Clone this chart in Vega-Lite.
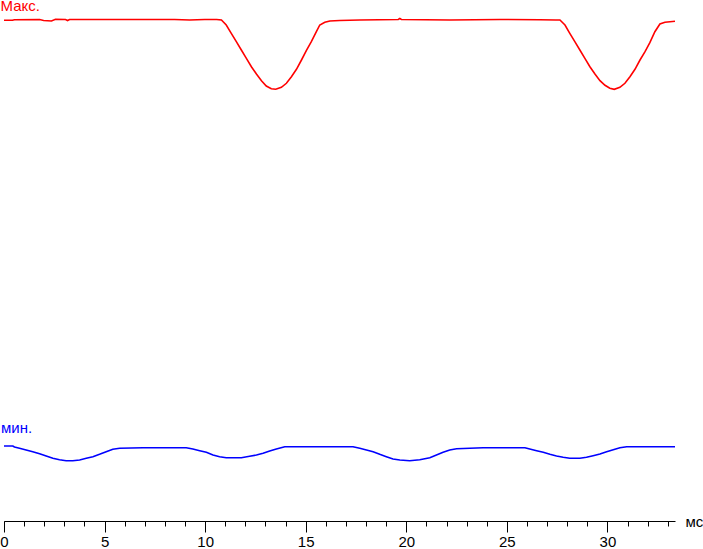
{
  "$schema": "https://vega.github.io/schema/vega-lite/v6.json",
  "autosize": {"type": "none"},
  "width": 671,
  "height": 521,
  "padding": {"left": 4, "top": 0, "right": 28, "bottom": 28},
  "background": "white",
  "config": {"view": {"stroke": null}, "font": "Liberation Sans"},
  "resolve": {"axis": {"x": "independent"}},
  "datasets": {
    "lines": [
      {"s": "max", "t": 0, "v": 500.7}, {"s": "max", "t": 0.42, "v": 500.7}, {"s": "max", "t": 0.52, "v": 501.3}, {"s": "max", "t": 1.77, "v": 501.5}, {"s": "max", "t": 1.97, "v": 500.5}, {"s": "max", "t": 2.36, "v": 500}, {"s": "max", "t": 2.56, "v": 501.7}, {"s": "max", "t": 3.06, "v": 501.5}, {"s": "max", "t": 3.16, "v": 500.5}, {"s": "max", "t": 3.26, "v": 501.5}, {"s": "max", "t": 5.75, "v": 501.5}, {"s": "max", "t": 8.48, "v": 501.5}, {"s": "max", "t": 9.23, "v": 501}, {"s": "max", "t": 9.98, "v": 501.5}, {"s": "max", "t": 10.57, "v": 501.5}, {"s": "max", "t": 10.81, "v": 501},
      {"s": "max", "t": 11.05, "v": 496}, {"s": "max", "t": 11.3, "v": 487.7}, {"s": "max", "t": 11.55, "v": 479.3}, {"s": "max", "t": 11.8, "v": 471}, {"s": "max", "t": 12.05, "v": 462.7}, {"s": "max", "t": 12.3, "v": 454.3}, {"s": "max", "t": 12.55, "v": 447}, {"s": "max", "t": 12.8, "v": 440.3}, {"s": "max", "t": 13.04, "v": 435}, {"s": "max", "t": 13.29, "v": 432.3}, {"s": "max", "t": 13.51, "v": 431.7}, {"s": "max", "t": 13.79, "v": 433.7}, {"s": "max", "t": 14.04, "v": 437.7}, {"s": "max", "t": 14.29, "v": 444.3}, {"s": "max", "t": 14.54, "v": 451.7}, {"s": "max", "t": 14.79, "v": 461}, {"s": "max", "t": 15.03, "v": 470.3}, {"s": "max", "t": 15.28, "v": 479.3}, {"s": "max", "t": 15.53, "v": 489.3}, {"s": "max", "t": 15.7, "v": 496}, {"s": "max", "t": 15.95, "v": 498.7}, {"s": "max", "t": 16.2, "v": 500}, {"s": "max", "t": 16.69, "v": 500.5},
      {"s": "max", "t": 17.69, "v": 501}, {"s": "max", "t": 19.6, "v": 501.5}, {"s": "max", "t": 19.68, "v": 502.5}, {"s": "max", "t": 19.76, "v": 501.5}, {"s": "max", "t": 22.16, "v": 501}, {"s": "max", "t": 24.65, "v": 501.5}, {"s": "max", "t": 26.64, "v": 501.3}, {"s": "max", "t": 27.44, "v": 501}, {"s": "max", "t": 27.64, "v": 501},
      {"s": "max", "t": 27.89, "v": 496}, {"s": "max", "t": 28.13, "v": 487.7}, {"s": "max", "t": 28.38, "v": 479.3}, {"s": "max", "t": 28.63, "v": 471}, {"s": "max", "t": 28.88, "v": 462.7}, {"s": "max", "t": 29.13, "v": 454.3}, {"s": "max", "t": 29.38, "v": 447}, {"s": "max", "t": 29.63, "v": 440.3}, {"s": "max", "t": 29.88, "v": 435.7}, {"s": "max", "t": 30.12, "v": 432.7}, {"s": "max", "t": 30.34, "v": 431.7}, {"s": "max", "t": 30.62, "v": 433.7}, {"s": "max", "t": 30.87, "v": 437.7}, {"s": "max", "t": 31.12, "v": 444.3}, {"s": "max", "t": 31.37, "v": 451.7}, {"s": "max", "t": 31.62, "v": 461}, {"s": "max", "t": 31.87, "v": 469.3}, {"s": "max", "t": 32.11, "v": 478.3}, {"s": "max", "t": 32.36, "v": 489.3}, {"s": "max", "t": 32.61, "v": 497}, {"s": "max", "t": 32.86, "v": 498.7}, {"s": "max", "t": 33.11, "v": 499.3}, {"s": "max", "t": 33.36, "v": 499.7},
      {"s": "min", "t": 0, "v": 75}, {"s": "min", "t": 0.44, "v": 75}, {"s": "min", "t": 0.52, "v": 74}, {"s": "min", "t": 0.77, "v": 72.7}, {"s": "min", "t": 1.1, "v": 71}, {"s": "min", "t": 1.43, "v": 69.3}, {"s": "min", "t": 1.77, "v": 67.3}, {"s": "min", "t": 2.1, "v": 65}, {"s": "min", "t": 2.43, "v": 62.7}, {"s": "min", "t": 2.76, "v": 61.3}, {"s": "min", "t": 3.09, "v": 60.3}, {"s": "min", "t": 3.42, "v": 60.3}, {"s": "min", "t": 3.76, "v": 61}, {"s": "min", "t": 4.09, "v": 62.7}, {"s": "min", "t": 4.42, "v": 64.3}, {"s": "min", "t": 4.75, "v": 66.7}, {"s": "min", "t": 5.08, "v": 69.3}, {"s": "min", "t": 5.41, "v": 71.7}, {"s": "min", "t": 5.75, "v": 72.7}, {"s": "min", "t": 6.91, "v": 73.3}, {"s": "min", "t": 9.06, "v": 73.3}, {"s": "min", "t": 9.39, "v": 72}, {"s": "min", "t": 9.73, "v": 70.3}, {"s": "min", "t": 10.06, "v": 68.7}, {"s": "min", "t": 10.39, "v": 66}, {"s": "min", "t": 10.72, "v": 64.3}, {"s": "min", "t": 11.05, "v": 63.3}, {"s": "min", "t": 11.8, "v": 63.3}, {"s": "min", "t": 12.21, "v": 64.7}, {"s": "min", "t": 12.55, "v": 66}, {"s": "min", "t": 12.88, "v": 67.7}, {"s": "min", "t": 13.21, "v": 70}, {"s": "min", "t": 13.54, "v": 72}, {"s": "min", "t": 13.96, "v": 74.3}, {"s": "min", "t": 17.35, "v": 74.3}, {"s": "min", "t": 17.69, "v": 72.7}, {"s": "min", "t": 18.02, "v": 71}, {"s": "min", "t": 18.35, "v": 69.3}, {"s": "min", "t": 18.68, "v": 66.7}, {"s": "min", "t": 19.01, "v": 64.3}, {"s": "min", "t": 19.34, "v": 62}, {"s": "min", "t": 19.68, "v": 61}, {"s": "min", "t": 20.17, "v": 60.3}, {"s": "min", "t": 20.67, "v": 61.3}, {"s": "min", "t": 21.17, "v": 63.3}, {"s": "min", "t": 21.5, "v": 66}, {"s": "min", "t": 21.83, "v": 68.7}, {"s": "min", "t": 22.16, "v": 71}, {"s": "min", "t": 22.5, "v": 72.3}, {"s": "min", "t": 23.16, "v": 72.7}, {"s": "min", "t": 23.82, "v": 73.3}, {"s": "min", "t": 25.9, "v": 73.3}, {"s": "min", "t": 26.14, "v": 72}, {"s": "min", "t": 26.48, "v": 70.3}, {"s": "min", "t": 26.81, "v": 68.7}, {"s": "min", "t": 27.14, "v": 66.7}, {"s": "min", "t": 27.47, "v": 65}, {"s": "min", "t": 27.8, "v": 63.7}, {"s": "min", "t": 28.13, "v": 62.7}, {"s": "min", "t": 28.63, "v": 62.7}, {"s": "min", "t": 28.96, "v": 63.7}, {"s": "min", "t": 29.29, "v": 65.3}, {"s": "min", "t": 29.63, "v": 67}, {"s": "min", "t": 29.96, "v": 69.3}, {"s": "min", "t": 30.29, "v": 71.3}, {"s": "min", "t": 30.62, "v": 73.3}, {"s": "min", "t": 30.96, "v": 74.3}, {"s": "min", "t": 33.36, "v": 74.3}
    ],
    "labels": [
      {"s": "max", "label": "Макс.", "t": -0.17, "v": 509.6},
      {"s": "min", "label": "мин.", "t": -0.15, "v": 88.5}
    ]
  },
  "layer": [
    {
      "data": {"name": "lines"},
      "mark": {"type": "line", "strokeWidth": 1.6, "interpolate": "linear"},
      "encoding": {
        "x": {
          "field": "t", "type": "quantitative",
          "scale": {"domain": [0, 33.36], "nice": false, "zero": false},
          "axis": {
            "orient": "bottom",
            "values": [0, 5, 10, 15, 20, 25, 30],
            "grid": false,
            "domainColor": "black",
            "domainWidth": 1,
            "tickColor": "black",
            "tickWidth": 1,
            "tickSize": 11,
            "labelFont": "Liberation Sans",
            "labelFontSize": 15,
            "labelColor": "black",
            "labelPadding": 2,
            "labelBaseline": "top",
            "labelFlush": false,
            "labelOverlap": false,
            "labelBound": false,
            "title": "мс",
            "titleFont": "Liberation Sans",
            "titleFontSize": 15,
            "titleFontWeight": "normal",
            "titleColor": "black",
            "titleAnchor": "start",
            "titleAlign": "left",
            "titleBaseline": "middle",
            "titleX": 681,
            "titleY": 0
          }
        },
        "y": {
          "field": "v", "type": "quantitative",
          "scale": {"domain": [0, 521], "nice": false, "zero": false},
          "axis": null
        },
        "color": {
          "field": "s", "type": "nominal",
          "scale": {"domain": ["max", "min"], "range": ["#ff0000", "#0000ff"]},
          "legend": null
        },
        "detail": {"field": "s"}
      }
    },
    {
      "data": {"name": "labels"},
      "mark": {"type": "text", "align": "left", "baseline": "alphabetic", "fontSize": 15, "font": "Liberation Sans"},
      "encoding": {
        "x": {
          "field": "t", "type": "quantitative",
          "axis": {
            "orient": "bottom",
            "values": [0,1,2,3,4,6,7,8,9,11,12,13,14,16,17,18,19,21,22,23,24,26,27,28,29,31,32,33],
            "grid": false,
            "domain": false,
            "labels": false,
            "title": null,
            "tickColor": "black",
            "tickWidth": 1,
            "tickSize": 5
          }
        },
        "y": {"field": "v", "type": "quantitative"},
        "text": {"field": "label"},
        "color": {"field": "s", "type": "nominal", "legend": null}
      }
    }
  ]
}
